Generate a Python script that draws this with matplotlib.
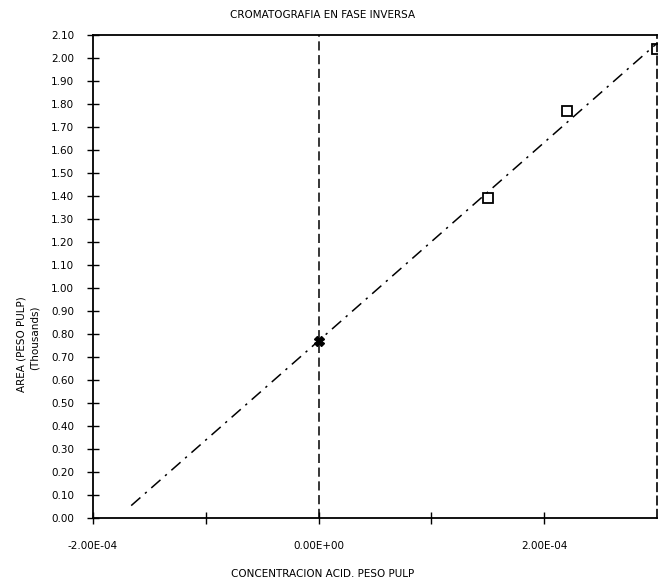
import matplotlib.pyplot as plt
import numpy as np

# concentration (acid / pulp weight) vs area (thousands)
conc = [0.0, 1.5e-4, 2.2e-4, 3.0e-4]
area = [0.77, 1.39, 1.77, 2.04]
xticks = [-2e-4, 0.0, 2e-4]
xtick_labels = ['-2.00E-04', '0.00E+00', '2.00E-04']
yticks = np.arange(0, 22) / 10.0

plt.rcParams['font.family'] = ['DejaVu Sans']

fig = plt.figure(figsize=(6.59, 5.83), dpi=100)
ax = fig.add_axes([0.141, 0.1115, 0.856, 0.8285])

# least squares line, extrapolated back towards zero area
slope, icpt = np.polyfit(conc, area, 1)
x0 = -icpt / slope
xs = np.array([x0 * 0.93, conc[-1]])
ax.plot(xs, icpt + slope * xs, color='black', lw=1.1, ls=(0, (8, 4, 1.5, 4)))

ax.plot(conc[1:], area[1:], ls='none', marker='s', ms=7, mfc='none',
        mec='black', mew=1.3)
ax.plot(conc[:1], area[:1], ls='none', marker='X', ms=7, color='black')

ax.axvline(0, color='black', lw=1.1, ls=(0, (6, 3)))

ax.set_xlim(-2e-4, 3e-4)
ax.set_ylim(0, 2.10)
ax.set_xticks(xticks)
ax.set_xticklabels(xtick_labels)
ax.set_xticks([-1e-4, 1e-4], minor=True)
ax.set_yticks(yticks)
ax.set_yticklabels(['%.2f' % v for v in yticks])
ax.tick_params(axis='both', which='both', direction='inout', length=9,
               width=1, labelsize=7.5, colors='black')
ax.tick_params(axis='x', pad=12)
ax.tick_params(axis='y', pad=9)

for side in ['left', 'bottom', 'top']:
    ax.spines[side].set_linewidth(1.3)
ax.spines['right'].set_linestyle((0, (5, 3)))
ax.spines['right'].set_linewidth(1.2)

fig.text(0.49, 0.975, 'CROMATOGRAFIA EN FASE INVERSA', ha='center',
         va='center', fontsize=7.5)
fig.text(0.49, 0.015, 'CONCENTRACION ACID. PESO PULP', ha='center',
         va='center', fontsize=7.5)
fig.text(0.032, 0.41, 'AREA (PESO PULP)', rotation=90, ha='center',
         va='center', fontsize=7.5)
fig.text(0.052, 0.42, '(Thousands)', rotation=90, ha='center',
         va='center', fontsize=7.5)

fig.savefig('out.png', dpi=100)
